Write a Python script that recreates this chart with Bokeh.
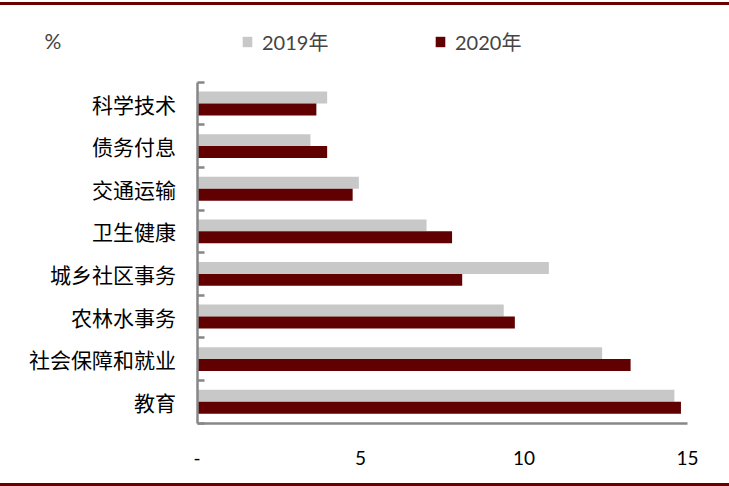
from bokeh.plotting import figure
from bokeh.models import (ColumnDataSource, FixedTicker, Legend, LegendItem, Label, Div, Range1d)
from bokeh.transform import dodge
from bokeh.layouts import column
from bokeh.embed import file_html
from bokeh.resources import INLINE

categories = ["科学技术", "债务付息", "交通运输", "卫生健康", "城乡社区事务", "农林水事务", "社会保障和就业", "教育"]
v2019 = [3.98, 3.47, 4.95, 7.02, 10.76, 9.38, 12.39, 14.60]
v2020 = [3.65, 3.98, 4.76, 7.80, 8.11, 9.72, 13.26, 14.80]
x_ticks = [0, 5, 10, 15]
x_tick_labels = ["-", "5", "10", "15"]
series_names = ["2019年", "2020年"]
unit_label = "%"

GRAY = "#C8C8C8"
RED = "#600000"
LINE_RED = "#6B0000"
AXIS_GRAY = "#878787"

n = len(categories)
ypos = [n - 1 - i + 0.5 for i in range(n)]
src = ColumnDataSource(dict(y=ypos, cat=categories, v2019=v2019, v2020=v2020))

W = 729
H = 478
p = figure(width=W, height=H, output_backend="svg", toolbar_location=None,
           x_range=Range1d(-6.0092, 16.2844), y_range=Range1d(-1.420, 9.8005),
           min_border=0)
p.outline_line_color = None
p.xgrid.visible = False
p.ygrid.visible = False

r1 = p.hbar(y=dodge("y", 0.14), right="v2019", left=0, height=0.28, source=src,
            fill_color=GRAY, line_color=None)
r2 = p.hbar(y=dodge("y", -0.14), right="v2020", left=0, height=0.28, source=src,
            fill_color=RED, line_color=None)

# y axis: labels at category centres, small inward ticks at category boundaries
ya = p.yaxis[0]
ya.fixed_location = 0
ya.bounds = (0, n)
ya.ticker = FixedTicker(ticks=ypos, minor_ticks=list(range(n + 1)))
ya.major_label_overrides = {float(y): c for y, c in zip(ypos, categories)}
ya.major_tick_line_color = None
ya.minor_tick_in = 7
ya.minor_tick_out = 0
ya.minor_tick_line_color = AXIS_GRAY
ya.minor_tick_line_width = 2.5
ya.axis_line_color = AXIS_GRAY
ya.axis_line_width = 2.5
ya.major_label_text_font = "Noto Sans CJK SC"
ya.major_label_text_font_size = "21px"
ya.major_label_text_color = "black"
ya.major_label_standoff = 15

xa = p.xaxis[0]
xa.fixed_location = 0
xa.bounds = (0, 15)
xa.ticker = FixedTicker(ticks=x_ticks, minor_ticks=[])
xa.major_label_overrides = {t: l for t, l in zip(x_ticks, x_tick_labels)}
xa.major_tick_line_color = None
xa.minor_tick_line_color = None
xa.axis_line_color = AXIS_GRAY
xa.axis_line_width = 2.5
xa.major_label_text_font = "Lato"
xa.major_label_text_font_size = "19px"
xa.major_label_text_color = "black"
xa.major_label_standoff = 22

legend = Legend(items=[LegendItem(label=series_names[0], renderers=[r1]),
                       LegendItem(label=series_names[1], renderers=[r2])],
                location=(241, 427), orientation="horizontal",
                border_line_color=None, background_fill_alpha=0,
                padding=0, margin=0, spacing=92, glyph_width=12, glyph_height=13,
                label_standoff=9, label_width=80, label_height=13,
                label_text_font="Lato, 'Noto Sans CJK SC'", label_text_font_size="20px")
p.add_layout(legend)

p.add_layout(Label(x=-4.66, y=8.979, text=unit_label, text_baseline="middle",
                   text_font="Lato", text_font_size="21px"))

top_bar = Div(width=W, height=3, margin=(2, 0, 0, 0), styles={"background-color": LINE_RED})
bot_bar = Div(width=W, height=3, margin=0, styles={"background-color": LINE_RED})
layout = column(top_bar, p, bot_bar, spacing=0)

open("out.html", "w").write(file_html(layout, INLINE))
